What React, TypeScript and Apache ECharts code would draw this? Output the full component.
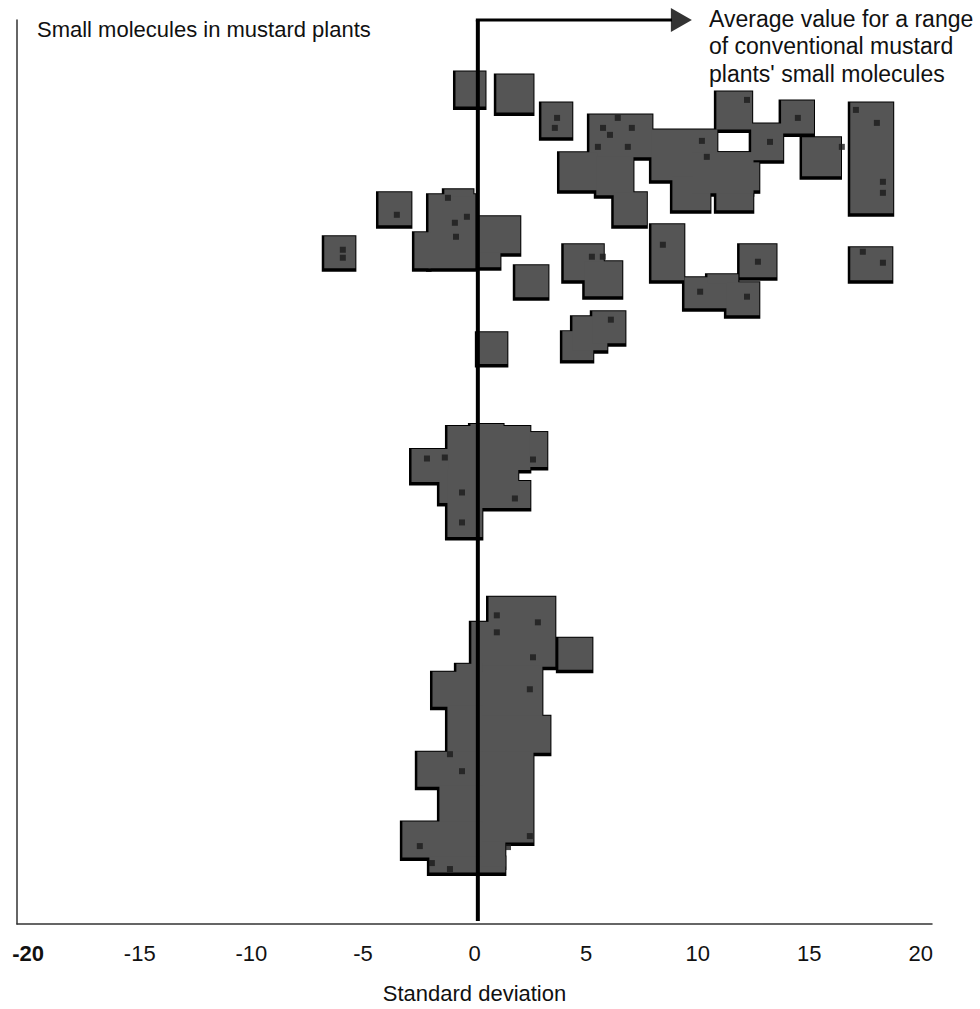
import React, { useEffect, useRef } from "react";
import * as echarts from "echarts";

// x: standard deviation, y: vertical position (rows from top of plot)
const X_TICKS = [-20, -15, -10, -5, 0, 5, 10, 15, 20];

// Blocks of molecules: [xStart, xEnd, yTop, yBottom]
const TOP_BLOCKS: number[][] = [
  [-0.83, 0.47, 52, 86],
  [1.0, 2.62, 55, 92],
  [3.02, 4.36, 83, 117],
  [5.17, 7.95, 95, 137],
  [3.83, 5.48, 133, 170],
  [5.48, 7.1, 137, 175],
  [6.26, 7.7, 173, 205],
  [7.95, 10.86, 110, 160],
  [8.89, 10.55, 157, 190],
  [10.86, 12.47, 133, 190],
  [9.78, 12.47, 133, 173],
  [12.47, 12.74, 143, 170],
  [10.86, 12.42, 72, 109],
  [12.42, 13.81, 104, 140],
  [13.76, 15.19, 81, 113],
  [14.7, 16.4, 118, 156],
  [16.86, 18.74, 83, 193],
];

const MID_BLOCKS: number[][] = [
  [-4.28, -2.85, 173, 205],
  [-6.71, -5.36, 217, 248],
  [-2.04, 0.02, 175, 248],
  [-1.33, -0.07, 170, 176],
  [-2.67, -1.99, 213, 248],
  [0.15, 2.03, 197, 233],
  [0.15, 1.14, 233, 247],
  [1.85, 3.29, 246, 277],
  [0.15, 1.45, 313, 344],
  [4.02, 5.77, 225, 260],
  [4.96, 6.6, 242, 276],
  [3.96, 5.3, 312, 340],
  [4.41, 5.93, 297, 330],
  [5.3, 6.74, 292, 323],
  [7.95, 9.38, 205, 260],
  [11.9, 13.51, 225, 257],
  [9.43, 11.31, 258, 288],
  [10.46, 11.8, 255, 263],
  [11.31, 12.74, 263, 295],
  [16.86, 18.7, 228, 260],
];

const CENTER_BLOCKS: number[][] = [
  [-1.19, 2.48, 407, 450],
  [-0.16, 1.28, 405, 410],
  [2.48, 3.24, 413, 447],
  [-2.8, -1.19, 430, 462],
  [-1.55, -1.19, 460, 483],
  [-1.19, 0.33, 450, 517],
  [0.33, 1.94, 450, 462],
  [0.33, 2.48, 462, 488],
];

const BOTTOM_BLOCKS: number[][] = [
  [0.65, 3.6, 578, 647],
  [-0.12, 0.65, 603, 647],
  [3.78, 5.26, 619, 650],
  [0.33, 3.02, 647, 697],
  [0.33, 3.38, 697, 733],
  [0.33, 2.62, 733, 823],
  [-1.86, 0.33, 653, 687],
  [-1.19, 0.33, 687, 733],
  [-2.54, 0.33, 733, 767],
  [-1.55, 0.33, 767, 803],
  [-3.21, 0.33, 803, 838],
  [-2.0, 1.36, 838, 853],
  [0.33, 1.36, 823, 847],
  [-0.79, 0.33, 645, 653],
];

// Dark specks inside the blocks: [x, y]
const SPECKS: number[][] = [
  [3.7, 98], [3.6, 108], [5.76, 108], [6.07, 115], [6.42, 98], [7.05, 108],
  [5.53, 127], [6.87, 127], [10.41, 137], [10.19, 121], [12.21, 80],
  [-1.19, 178], [-0.34, 197], [-0.88, 203], [14.49, 98], [16.46, 127],
  [18.03, 103], [18.3, 162], [18.3, 173], [17.09, 90], [13.24, 122],
  [-0.83, 217], [-5.9, 230], [-5.9, 238], [-3.48, 195], [5.75, 237],
  [5.26, 237], [6.11, 300], [8.44, 225], [12.7, 242], [12.21, 277],
  [10.11, 272], [18.3, 243], [17.4, 232], [-0.56, 473], [-0.56, 503],
  [1.81, 479], [2.62, 440], [-1.33, 438], [-2.13, 439], [1.0, 596],
  [1.0, 613], [2.84, 603], [2.62, 638], [-1.1, 735], [-0.56, 752],
  [-2.45, 827], [-1.91, 844], [1.5, 828], [2.48, 817], [-1.1, 850],
  [2.48, 670],
];

const ALL_BLOCKS = [...TOP_BLOCKS, ...MID_BLOCKS, ...CENTER_BLOCKS, ...BOTTOM_BLOCKS];

// Reference line: average of conventional plants
const REF_X = 0.15;
const REF_Y_BOTTOM = 902;
const REF_Y_TOP = 0;
const ARROW_END_X = 8.85;
const ARROW_HEAD_X = 9.27;

const FONT = "'Liberation Sans', Arial, Helvetica, sans-serif";

export default function App() {
  const ref = useRef<HTMLDivElement>(null);
  useEffect(() => {
    if (!ref.current) return;
    const chart = echarts.init(ref.current, undefined, { renderer: "svg" });

    const makeRender = (shadow: boolean) => (params: any, api: any) => {
      const p0 = api.coord([api.value(0), api.value(2)]);
      const p1 = api.coord([api.value(1), api.value(3)]);
      const w = p1[0] - p0[0];
      const h = p1[1] - p0[1];
      if (shadow) {
        return {
          type: "rect",
          shape: { x: p0[0] - 3, y: p0[1] - 1.5, width: w + 4.5, height: h + 5.5 },
          style: { fill: "#000" },
        };
      }
      return {
        type: "rect",
        shape: { x: p0[0] - 0.5, y: p0[1] - 0.5, width: w + 1, height: h + 1 },
        style: { fill: "#555555" },
      };
    };

    chart.setOption({
      animation: false,
      grid: { left: 17, right: 48, top: 20, bottom: 84, containLabel: false },
      xAxis: {
        type: "value",
        min: -20.5,
        max: 20.5,
        position: "bottom",
        name: "Standard deviation",
        nameLocation: "middle",
        nameGap: 58,
        nameTextStyle: { fontFamily: FONT, fontSize: 22, color: "#111" },
        axisLine: { show: true, onZero: false, lineStyle: { color: "#333", width: 1.5 } },
        axisTick: { show: false },
        splitLine: { show: false },
        axisLabel: {
          customValues: X_TICKS,
          margin: 18,
          fontFamily: FONT,
          fontSize: 22,
          color: "#111",
          formatter: (v: number) => (v === -20 ? "{b|-20}" : String(v)),
          rich: { b: { fontFamily: FONT, fontSize: 22, fontWeight: "bold", color: "#111" } },
        },
      },
      yAxis: {
        type: "value",
        inverse: true,
        min: 0,
        max: 905,
        axisLine: { show: true, onZero: false, lineStyle: { color: "#333", width: 1.5 } },
        axisTick: { show: false },
        axisLabel: { show: false },
        splitLine: { show: false },
      },
      series: [
        {
          type: "custom",
          renderItem: makeRender(true),
          data: ALL_BLOCKS,
          encode: { x: [0, 1], y: [2, 3] },
          silent: true,
        },
        {
          type: "custom",
          renderItem: makeRender(false),
          data: ALL_BLOCKS,
          encode: { x: [0, 1], y: [2, 3] },
          silent: true,
        },
        {
          type: "scatter",
          data: SPECKS,
          symbol: "rect",
          symbolSize: 6,
          itemStyle: { color: "#1c1c1c" },
          silent: true,
        },
        {
          type: "line",
          data: [
            [REF_X, REF_Y_BOTTOM],
            [REF_X, REF_Y_TOP],
          ],
          symbol: "none",
          clip: false,
          lineStyle: { color: "#000", width: 4 },
          silent: true,
        },
        {
          type: "line",
          data: [
            [REF_X - 0.09, REF_Y_TOP],
            [ARROW_END_X, REF_Y_TOP],
          ],
          symbol: "none",
          clip: false,
          lineStyle: { color: "#000", width: 3 },
          silent: true,
        },
        {
          type: "scatter",
          data: [[ARROW_HEAD_X, REF_Y_TOP]],
          symbol: "triangle",
          symbolRotate: -90,
          symbolSize: [24, 21],
          itemStyle: { color: "#000" },
          clip: false,
          silent: true,
        },
      ],
      graphic: [
        {
          type: "text",
          left: 37,
          top: 18,
          style: {
            text: "Small molecules in mustard plants",
            fontFamily: FONT,
            fontSize: 22,
            fill: "#111",
          },
        },
        {
          type: "text",
          left: 709,
          top: 5,
          style: {
            text: "Average value for a range\nof conventional mustard\nplants' small molecules",
            fontFamily: FONT,
            fontSize: 23,
            lineHeight: 27.5,
            fill: "#111",
          },
        },
      ],
    });
    return () => chart.dispose();
  }, []);

  return (
    <div
      ref={ref}
      style={{ position: "absolute", left: 0, top: 0, width: 980, height: 1009, background: "#fff" }}
    />
  );
}
